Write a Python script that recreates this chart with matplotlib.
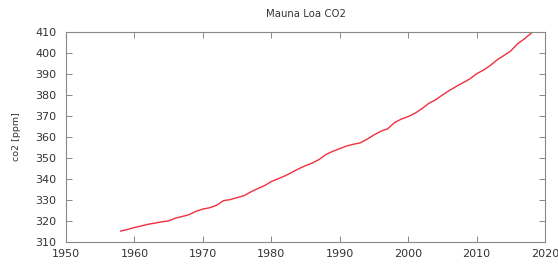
import matplotlib
matplotlib.use("Agg")
import matplotlib.pyplot as plt

# Mauna Loa annual mean CO2 (ppm)
years = [1958, 1959, 1960, 1961, 1962, 1963, 1964, 1965, 1966, 1967, 1968, 1969,
         1970, 1971, 1972, 1973, 1974, 1975, 1976, 1977, 1978, 1979, 1980, 1981,
         1982, 1983, 1984, 1985, 1986, 1987, 1988, 1989, 1990, 1991, 1992, 1993,
         1994, 1995, 1996, 1997, 1998, 1999, 2000, 2001, 2002, 2003, 2004, 2005,
         2006, 2007, 2008, 2009, 2010, 2011, 2012, 2013, 2014, 2015, 2016, 2017, 2018]
co2 = [315.2, 315.97, 316.91, 317.64, 318.45, 318.99, 319.62, 320.04, 321.38, 322.16,
       323.04, 324.62, 325.68, 326.32, 327.46, 329.68, 330.19, 331.13, 332.03, 333.84,
       335.41, 336.84, 338.76, 340.12, 341.48, 343.15, 344.85, 346.35, 347.61, 349.31,
       351.69, 353.20, 354.45, 355.70, 356.54, 357.21, 358.96, 360.97, 362.74, 363.88,
       366.84, 368.54, 369.71, 371.32, 373.45, 375.98, 377.70, 379.98, 382.09, 384.02,
       385.83, 387.64, 390.10, 391.85, 394.06, 396.74, 398.81, 401.01, 404.41, 406.76, 409.5]

fig = plt.figure(figsize=(5.58, 2.66), dpi=100)
ax = fig.add_axes([66 / 558, 1 - 242 / 266, (545 - 66) / 558, (242 - 32) / 266])

ax.plot(years, co2, color="#f0303c", lw=1.0)

ax.set_xlim(1950, 2020)
ax.set_ylim(310, 410)
ax.set_xticks(range(1950, 2021, 10))
ax.set_yticks(range(310, 411, 10))

for s in ax.spines.values():
    s.set_color("#888888")
    s.set_linewidth(0.8)
ax.tick_params(direction="in", top=True, right=True, length=4, width=0.7,
               color="#888888", labelsize=8, labelcolor="#333333")
ax.tick_params(axis="x", pad=5)
ax.tick_params(axis="y", pad=7)

ax.set_title("Mauna Loa CO2", fontsize=7.3, color="#333333", pad=11)
ax.set_ylabel("co2 [ppm]", fontsize=6.8, color="#333333", labelpad=10)

fig.savefig("out.png", dpi=100)
